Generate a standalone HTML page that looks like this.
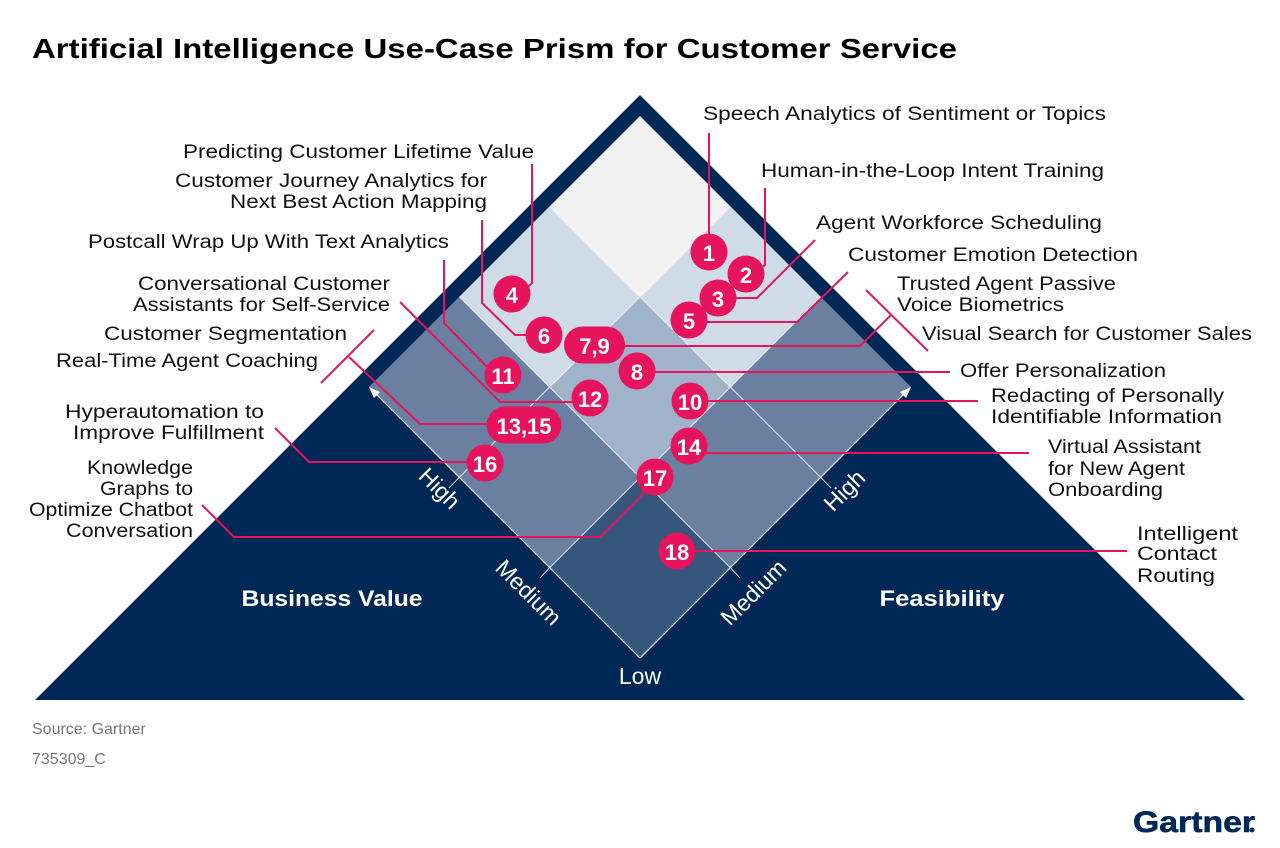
<!DOCTYPE html>
<html><head><meta charset="utf-8"><style>
html,body{margin:0;padding:0;background:#fff;}
svg{display:block;}
text{font-family:"Liberation Sans",sans-serif;}
.l{font-size:19px;fill:#111;}
.b{font-size:22px;font-weight:bold;fill:#fff;text-anchor:middle;}
.ax{font-size:23px;fill:#fff;text-anchor:middle;}
</style></head><body>
<svg width="1280" height="848" viewBox="0 0 1280 848" xmlns="http://www.w3.org/2000/svg">
<text x="32" y="58" font-size="28" font-weight="bold" fill="#000" textLength="925" lengthAdjust="spacingAndGlyphs">Artificial Intelligence Use-Case Prism for Customer Service</text>

<polygon points="640,95 35,700 1245,700" fill="#002856"/>
<g>
<polygon points="640,658 549.7,567.7 640,477.3 730.3,567.7" fill="#36577b"/>
<polygon points="549.7,567.7 459.3,477.3 549.7,387 640,477.3" fill="#6b7fa0"/>
<polygon points="730.3,567.7 640,477.3 730.3,387 820.7,477.3" fill="#6b7fa0"/>
<polygon points="459.3,477.3 369,387 459.3,296.7 549.7,387" fill="#6b7fa0"/>
<polygon points="820.7,477.3 730.3,387 820.7,296.7 911,387" fill="#6b7fa0"/>
<polygon points="640,477.3 549.7,387 640,296.7 730.3,387" fill="#a1b3ca"/>
<polygon points="549.7,387 459.3,296.7 549.7,206.3 640,296.7" fill="#cfdce8"/>
<polygon points="730.3,387 640,296.7 730.3,206.3 820.7,296.7" fill="#cfdce8"/>
<polygon points="640,296.7 549.7,206.3 640,116 730.3,206.3" fill="#f2f2f2"/>
</g>
<g stroke="#fff" stroke-width="1" stroke-opacity="0.85" fill="none">
<line x1="549.7" y1="567.7" x2="820.7" y2="296.7"/>
<line x1="459.3" y1="477.3" x2="730.3" y2="206.3"/>
<line x1="730.3" y1="567.7" x2="459.3" y2="296.7"/>
<line x1="820.7" y1="477.3" x2="549.7" y2="206.3"/>
<line x1="549.7" y1="567.7" x2="540" y2="578"/>
<line x1="459.3" y1="477.3" x2="449" y2="488"/>
<line x1="730.3" y1="567.7" x2="740" y2="578"/>
<line x1="820.7" y1="477.3" x2="831" y2="488"/>
<line x1="640" y1="658" x2="373" y2="391" stroke-width="1.3"/>
<line x1="640" y1="658" x2="907" y2="391" stroke-width="1.3"/>
</g>
<polygon points="369,387 380,392 374,398" fill="#fff"/>
<polygon points="911,387 906,398 900,392" fill="#fff"/>

<text class="ax" transform="translate(434,494) rotate(45)">High</text>
<text class="ax" transform="translate(523,598) rotate(45)">Medium</text>
<text class="ax" transform="translate(850,496) rotate(-45)">High</text>
<text class="ax" transform="translate(759,598) rotate(-45)">Medium</text>
<text class="ax" x="640" y="684">Low</text>
<text x="332" y="606" font-size="22" font-weight="bold" fill="#fff" text-anchor="middle" textLength="181" lengthAdjust="spacingAndGlyphs">Business Value</text>
<text x="942" y="606" font-size="22" font-weight="bold" fill="#fff" text-anchor="middle" textLength="125" lengthAdjust="spacingAndGlyphs">Feasibility</text>

<g stroke="#e5145c" stroke-width="2" fill="none">
<polyline points="709,133 709,240"/>
<polyline points="765,188 765,265 755,272"/>
<polyline points="815,240 757,298 730,298"/>
<polyline points="848,272 797,322 700,322"/>
<polyline points="532,164 532,283 522,292"/>
<polyline points="482,220 482,303 515,335 535,335"/>
<polyline points="444,260 444,323 490,370"/>
<polyline points="400,302 500,402 580,402"/>
<line x1="866" y1="290" x2="928" y2="351"/>
<polyline points="891,315 860,346 610,346"/>
<line x1="374" y1="330" x2="321" y2="383"/>
<polyline points="349,357 420,424 500,424"/>
<polyline points="275,428 309,462 475,462"/>
<polyline points="202,505 234,537 600,537 650,487"/>
<polyline points="620,372 950,372"/>
<polyline points="680,401 978,401"/>
<polyline points="680,453 1029,453"/>
<polyline points="680,551 1127,551"/>
</g>

<g fill="#e5145c">
<circle cx="709" cy="252" r="18.5"/><circle cx="746" cy="274" r="18.5"/><circle cx="718" cy="298" r="18.5"/><circle cx="689" cy="320" r="18.5"/>
<circle cx="512" cy="294" r="18.5"/><circle cx="544" cy="335" r="18.5"/>
<rect x="564" y="326.5" width="61" height="37" rx="18.5"/>
<circle cx="637" cy="371" r="18.5"/><circle cx="503" cy="375" r="18.5"/><circle cx="590" cy="398" r="18.5"/><circle cx="690" cy="401" r="18.5"/>
<rect x="486.5" y="406.5" width="75" height="37" rx="18.5"/>
<circle cx="485" cy="463" r="18.5"/><circle cx="689" cy="446" r="18.5"/><circle cx="655" cy="477" r="18.5"/><circle cx="677" cy="551" r="18.5"/>
</g>
<g>
<text class="b" x="709" y="261">1</text><text class="b" x="746" y="283">2</text><text class="b" x="718" y="307">3</text><text class="b" x="689" y="329">5</text>
<text class="b" x="512" y="303">4</text><text class="b" x="544" y="344">6</text><text class="b" x="594.5" y="354">7,9</text>
<text class="b" x="637" y="380">8</text><text class="b" x="503" y="384">11</text><text class="b" x="590" y="407">12</text><text class="b" x="690" y="410">10</text>
<text class="b" x="524" y="434">13,15</text><text class="b" x="485" y="472">16</text><text class="b" x="689" y="455">14</text><text class="b" x="655" y="486">17</text><text class="b" x="677" y="560">18</text>
</g>

<g text-anchor="end">
<text class="l" x="534" y="158" textLength="351" lengthAdjust="spacingAndGlyphs">Predicting Customer Lifetime Value</text>
<text class="l" x="487" y="187" textLength="312" lengthAdjust="spacingAndGlyphs">Customer Journey Analytics for</text>
<text class="l" x="487" y="208" textLength="257" lengthAdjust="spacingAndGlyphs">Next Best Action Mapping</text>
<text class="l" x="449" y="248" textLength="361" lengthAdjust="spacingAndGlyphs">Postcall Wrap Up With Text Analytics</text>
<text class="l" x="390" y="290" textLength="252" lengthAdjust="spacingAndGlyphs">Conversational Customer</text>
<text class="l" x="390" y="311" textLength="257" lengthAdjust="spacingAndGlyphs">Assistants for Self-Service</text>
<text class="l" x="347" y="340" textLength="243" lengthAdjust="spacingAndGlyphs">Customer Segmentation</text>
<text class="l" x="318" y="367" textLength="262" lengthAdjust="spacingAndGlyphs">Real-Time Agent Coaching</text>
<text class="l" x="264" y="418" textLength="199" lengthAdjust="spacingAndGlyphs">Hyperautomation to</text>
<text class="l" x="264" y="439" textLength="191" lengthAdjust="spacingAndGlyphs">Improve Fulfillment</text>
<text class="l" x="193" y="474" textLength="106" lengthAdjust="spacingAndGlyphs">Knowledge</text>
<text class="l" x="193" y="495" textLength="93" lengthAdjust="spacingAndGlyphs">Graphs to</text>
<text class="l" x="193" y="516" textLength="164" lengthAdjust="spacingAndGlyphs">Optimize Chatbot</text>
<text class="l" x="193" y="537" textLength="127" lengthAdjust="spacingAndGlyphs">Conversation</text>
</g>
<g>
<text class="l" x="703" y="120" textLength="403" lengthAdjust="spacingAndGlyphs">Speech Analytics of Sentiment or Topics</text>
<text class="l" x="761" y="177" textLength="343" lengthAdjust="spacingAndGlyphs">Human-in-the-Loop Intent Training</text>
<text class="l" x="816" y="229" textLength="286" lengthAdjust="spacingAndGlyphs">Agent Workforce Scheduling</text>
<text class="l" x="848" y="261" textLength="290" lengthAdjust="spacingAndGlyphs">Customer Emotion Detection</text>
<text class="l" x="897" y="290" textLength="219" lengthAdjust="spacingAndGlyphs">Trusted Agent Passive</text>
<text class="l" x="897" y="311" textLength="167" lengthAdjust="spacingAndGlyphs">Voice Biometrics</text>
<text class="l" x="922" y="340" textLength="330" lengthAdjust="spacingAndGlyphs">Visual Search for Customer Sales</text>
<text class="l" x="960" y="377" textLength="206" lengthAdjust="spacingAndGlyphs">Offer Personalization</text>
<text class="l" x="991" y="402" textLength="233" lengthAdjust="spacingAndGlyphs">Redacting of Personally</text>
<text class="l" x="991" y="423" textLength="231" lengthAdjust="spacingAndGlyphs">Identifiable Information</text>
<text class="l" x="1048" y="453" textLength="153" lengthAdjust="spacingAndGlyphs">Virtual Assistant</text>
<text class="l" x="1048" y="475" textLength="137" lengthAdjust="spacingAndGlyphs">for New Agent</text>
<text class="l" x="1048" y="496" textLength="115" lengthAdjust="spacingAndGlyphs">Onboarding</text>
<text class="l" x="1137" y="540" textLength="101" lengthAdjust="spacingAndGlyphs">Intelligent</text>
<text class="l" x="1137" y="560" textLength="80" lengthAdjust="spacingAndGlyphs">Contact</text>
<text class="l" x="1137" y="582" textLength="78" lengthAdjust="spacingAndGlyphs">Routing</text>
</g>

<text x="32" y="734" font-size="16" fill="#777">Source: Gartner</text>
<text x="32" y="764" font-size="16" fill="#777">735309_C</text>
<text x="1133" y="832" font-size="30" font-weight="bold" fill="#002856" stroke="#002856" stroke-width="0.6" textLength="122" lengthAdjust="spacingAndGlyphs">Gartner</text>
<circle cx="1252" cy="830" r="2.5" fill="#002856"/>
</svg>
</body></html>
